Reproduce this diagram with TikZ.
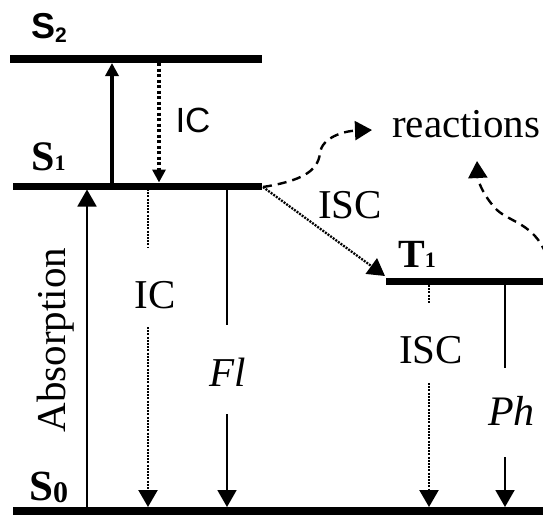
\documentclass[tikz,border=0pt]{standalone}
\usepackage{fontspec}
\setmainfont{Liberation Serif}
\newfontfamily\sansf{Liberation Sans}
\usetikzlibrary{arrows.meta}
\begin{document}
\begin{tikzpicture}[x=1pt,y=-1pt,
  levelline/.style={line width=8pt},
  bigtip/.style={-{Triangle[width=19pt,length=17pt]}},
  smalltip/.style={-{Triangle[width=13pt,length=13pt]}},
  thinline/.style={line width=1.9pt},
  thickline/.style={line width=3.2pt},
  dotline/.style={line width=2.3pt, dash pattern=on 2pt off 1.2pt},
  thickdot/.style={line width=3.6pt, dash pattern=on 3.2pt off 2.3pt},
  dashline/.style={line width=2.4pt, dash pattern=on 9pt off 6pt},
  lab/.style={inner sep=0pt, font=\fontsize{41}{41}\selectfont},
]
\clip (0,0) rectangle (543,515);
% energy levels
\coordinate (S2l) at (10,59);  \coordinate (S2r) at (262,59);
\coordinate (S1l) at (13,186); \coordinate (S1r) at (262,186);
\coordinate (T1l) at (386,281); \coordinate (T1r) at (543,281);
\coordinate (S0l) at (13,511); \coordinate (S0r) at (543,511);
\draw[levelline] (S2l) -- (S2r);
\draw[levelline,line width=7pt] (S1l) -- (S1r);
\draw[levelline,line width=7pt] (T1l) -- (T1r);
\draw[levelline] (S0l) -- (S0r);
% level labels
\node[anchor=base west, inner sep=0pt] (lS2) at (31,38) {\sansf\bfseries\fontsize{36}{36}\selectfont S\raisebox{-4pt}{\fontsize{21}{21}\selectfont 2}};
\node[anchor=base west, inner sep=0pt] (lS1) at (31,170) {\bfseries\fontsize{42}{42}\selectfont S{\fontsize{22}{22}\selectfont 1}};
\node[anchor=base west, inner sep=0pt] (lS0) at (29,500) {\bfseries\fontsize{43}{43}\selectfont S\raisebox{-2pt}{\fontsize{30}{30}\selectfont 0}};
\node[anchor=base west, inner sep=0pt] (lT1) at (398,267) {\bfseries\fontsize{40}{40}\selectfont T{\fontsize{22}{22}\selectfont 1}};
% S1 -> S2 excitation and IC S2 -> S1
\coordinate (a1) at (112,186); \coordinate (a2) at (112,63);
\draw[thickline,smalltip] (a1) -- (a2);
\coordinate (b1) at (159,63); \coordinate (b2) at (159,182.5);
\draw[thickdot,smalltip] (b1) -- (b2);
\node[inner sep=0pt, font=\sansf\fontsize{35}{35}\selectfont] (icu) at (193,120) {IC};
% Absorption
\coordinate (ab1) at (87,511); \coordinate (ab2) at (87,189.5);
\draw[thinline,bigtip] (ab1) -- (ab2);
\node[lab, rotate=90, anchor=base] (abs) at (65,340) {Absorption};
% IC S1 -> S0
\node[lab] (icl) at (155,295) {IC};
\coordinate (c1) at (148,189); \coordinate (c2) at (148,247);
\coordinate (c3) at (148,327); \coordinate (c4) at (148,507);
\draw[dotline] (c1) -- (c2);
\draw[dotline,bigtip] (c3) -- (c4);
% Fluorescence
\node[lab, font=\fontsize{41}{41}\selectfont\itshape] (fl) at (228,372) {Fl};
\coordinate (f1) at (227,189); \coordinate (f2) at (227,325);
\coordinate (f3) at (227,414); \coordinate (f4) at (227,507);
\draw[thinline] (f1) -- (f2);
\draw[thinline,bigtip] (f3) -- (f4);
% ISC T1 -> S0
\node[lab] (iscl) at (431,350) {ISC};
\coordinate (g1) at (429,285); \coordinate (g2) at (429,303);
\coordinate (g3) at (429,383); \coordinate (g4) at (429,507);
\draw[dotline] (g1) -- (g2);
\draw[dotline,bigtip] (g3) -- (g4);
% Phosphorescence
\node[lab, anchor=base west, font=\fontsize{42}{42}\selectfont\itshape] (ph) at (488,425) {Ph};
\coordinate (p1) at (505,285); \coordinate (p2) at (505,368);
\coordinate (p3) at (505,457); \coordinate (p4) at (505,507);
\draw[thinline] (p1) -- (p2);
\draw[thinline,bigtip] (p3) -- (p4);
% ISC S1 -> T1
\node[lab] (iscu) at (350,205) {ISC};
\coordinate (d1) at (263,187); \coordinate (d2) at (385,276);
\draw[dotline,bigtip] (d1) -- (d2);
% reactions
\node[lab, anchor=base west, font=\fontsize{41}{41}\selectfont] (react) at (392,137) {reactions};
\coordinate (r1) at (372,130);
\draw[dashline,bigtip] (d1) .. controls (300,181) and (318,172) .. (320,153)
   .. controls (322,137) and (345,131) .. (r1);
\coordinate (e0) at (546,254); \coordinate (e1) at (477,161);
\draw[dashline,bigtip] (e0) .. controls (534,224) and (510,222) .. (497,210)
   .. controls (485,198) and (478,182) .. (e1);
\end{tikzpicture}
\end{document}
